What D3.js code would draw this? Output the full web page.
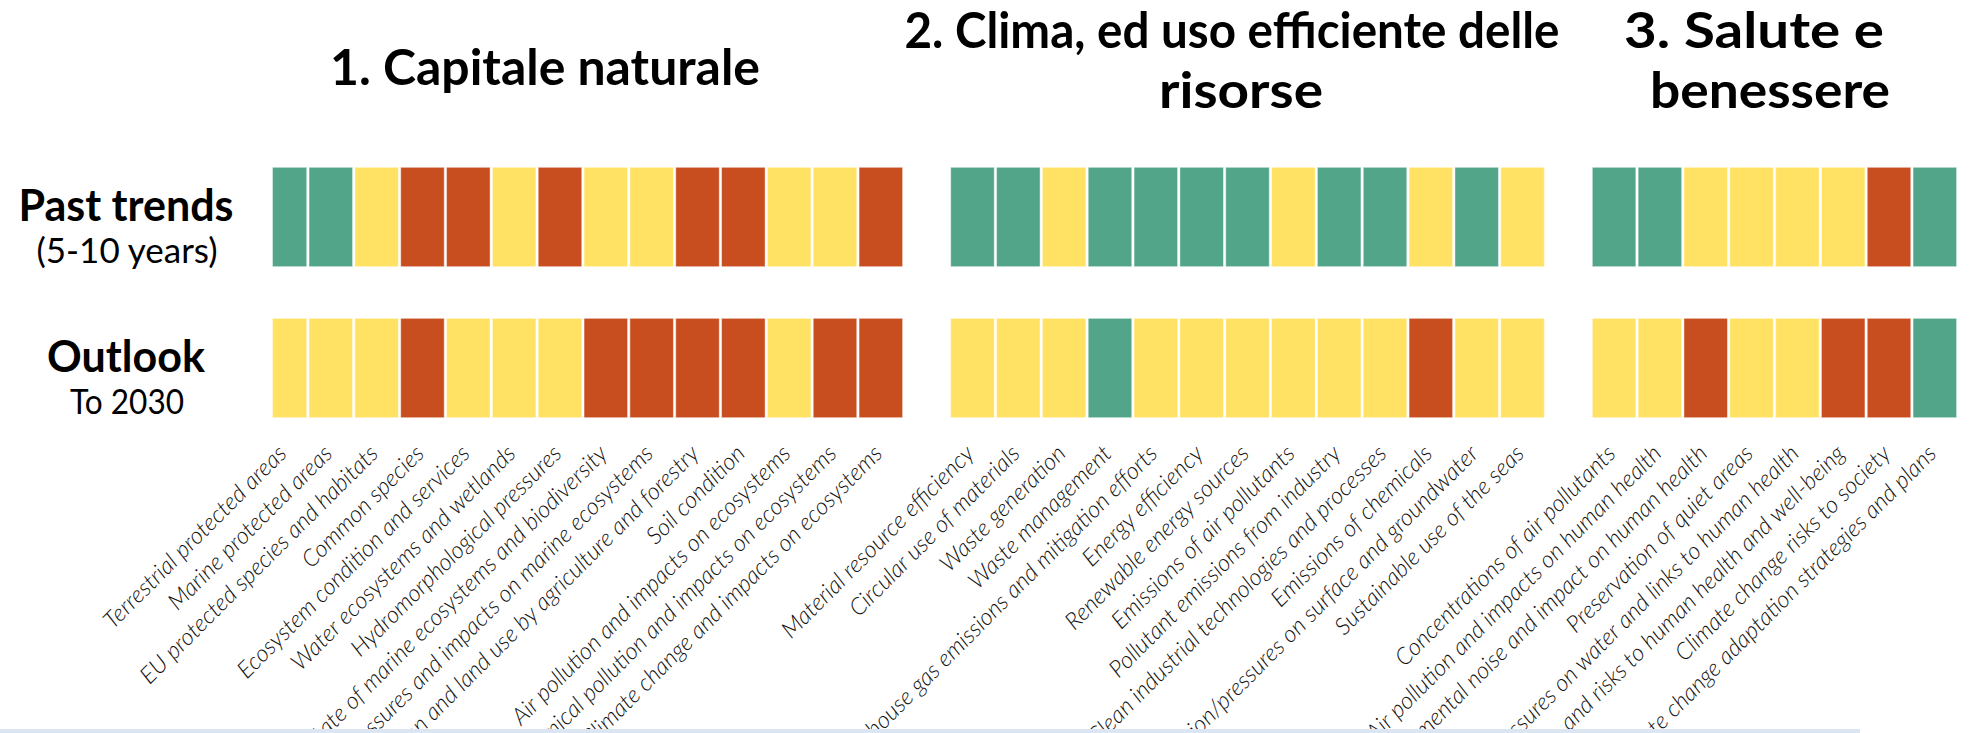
<!DOCTYPE html>
<html>
<head>
<meta charset="utf-8">
<script src="https://cdn.jsdelivr.net/npm/d3@7/dist/d3.min.js"></script>
<style>
  body { margin: 0; background: #fff; }
  svg { display: block; font-family: Lato, "Open Sans", sans-serif; }
</style>
</head>
<body>
<div id="chart"></div>
<script>
// status codes: up = improving (green), mix = mixed (yellow), down = deteriorating (red)
var statusCodes = ["up", "mix", "down"];
var statusColors = ["#52a588", "#ffe264", "#c84e20"];

var rowNames = ["past", "outlook"];
var rowTitles = ["Past trends", "Outlook"];
var rowSubtitles = ["(5-10 years)", "To 2030"];

var titles1 = ["1. Capitale naturale"];
var labels1 = [
  "Terrestrial protected areas",
  "Marine protected areas",
  "EU protected species and habitats",
  "Common species",
  "Ecosystem condition and services",
  "Water ecosystems and wetlands",
  "Hydromorphological pressures",
  "State of marine ecosystems and biodiversity",
  "Pressures and impacts on marine ecosystems",
  "Urbanisation and land use by agriculture and forestry",
  "Soil condition",
  "Air pollution and impacts on ecosystems",
  "Chemical pollution and impacts on ecosystems",
  "Climate change and impacts on ecosystems"
];
var past1    = ["up","up","mix","down","down","mix","down","mix","mix","down","down","mix","mix","down"];
var outlook1 = ["mix","mix","mix","down","mix","mix","mix","down","down","down","down","mix","down","down"];

var titles2 = ["2. Clima, ed uso efficiente delle", "risorse"];
var labels2 = [
  "Material resource efficiency",
  "Circular use of materials",
  "Waste generation",
  "Waste management",
  "Greenhouse gas emissions and mitigation efforts",
  "Energy efficiency",
  "Renewable energy sources",
  "Emissions of air pollutants",
  "Pollutant emissions from industry",
  "Clean industrial technologies and processes",
  "Emissions of chemicals",
  "Water abstraction/pressures on surface and groundwater",
  "Sustainable use of the seas"
];
var past2    = ["up","up","mix","up","up","up","up","mix","up","up","mix","up","mix"];
var outlook2 = ["mix","mix","mix","up","mix","mix","mix","mix","mix","mix","down","mix","mix"];

var titles3 = ["3. Salute e", "benessere"];
var labels3 = [
  "Concentrations of air pollutants",
  "Air pollution and impacts on human health",
  "Environmental noise and impact on human health",
  "Preservation of quiet areas",
  "Pollution pressures on water and links to human health",
  "Chemical pollution and risks to human health and well-being",
  "Climate change risks to society",
  "Climate change adaptation strategies and plans"
];
var past3    = ["up","up","mix","mix","mix","mix","down","up"];
var outlook3 = ["mix","mix","down","mix","mix","down","down","up"];

var width = 1975, height = 733;

// layout of the three panels (x extent of the bars, title anchors and widths)
var groups = [
  { titles: titles1, labels: labels1, past: past1, outlook: outlook1,
    x0: 263.2, x1: 902.6, tx: [545], ty: [85], tw: [430], clip: 272.7 },
  { titles: titles2, labels: labels2, past: past2, outlook: outlook2,
    x0: 950.7, x1: 1544.3, tx: [1232, 1241], ty: [48, 108], tw: [655, 164] },
  { titles: titles3, labels: labels3, past: past3, outlook: outlook3,
    x0: 1592.3, x1: 1956.6, tx: [1754, 1770], ty: [48, 108], tw: [260, 240] }
];

var color = d3.scaleOrdinal().domain(statusCodes).range(statusColors);

var svg = d3.select("#chart").append("svg")
  .attr("width", width)
  .attr("height", height);

var y = d3.scaleBand()
  .domain(rowNames)
  .range([167.3, 417.7])
  .paddingInner(0.342);

// row headings on the left
var subWidths = [181, 114];
var rowHead = svg.append("g").attr("class", "row-heads");
rowNames.forEach(function(r, i){
  var cy = y(r) + y.bandwidth() / 2;
  rowHead.append("text")
    .attr("x", 126)
    .attr("y", cy + 4)
    .attr("text-anchor", "middle")
    .style("font-size", "43px")
    .style("font-weight", 700)
    .attr("fill", "#000")
    .text(rowTitles[i]);
  rowHead.append("text")
    .attr("x", 127)
    .attr("y", cy + 46)
    .attr("text-anchor", "middle")
    .attr("textLength", subWidths[i])
    .attr("lengthAdjust", "spacingAndGlyphs")
    .style("font-size", "35px")
    .attr("fill", "#000")
    .text(rowSubtitles[i]);
});

groups.forEach(function(g, gi){
  var x = d3.scaleBand()
    .domain(g.labels)
    .range([g.x0, g.x1])
    .paddingInner(0.05);

  var cells = [];
  g.labels.forEach(function(lab, i){
    cells.push({ row: "past", label: lab, status: g.past[i] });
    cells.push({ row: "outlook", label: lab, status: g.outlook[i] });
  });

  var layer = svg.append("g").attr("class", "group-" + (gi + 1));

  var bars = layer.append("g");
  if (g.clip) {
    svg.append("clipPath").attr("id", "clip" + gi)
      .append("rect")
      .attr("x", g.clip).attr("y", 0)
      .attr("width", g.x1 - g.clip + 5).attr("height", height);
    bars.attr("clip-path", "url(#clip" + gi + ")");
  }

  bars.selectAll("rect")
    .data(cells)
    .join("rect")
    .attr("x", function(d){ return x(d.label); })
    .attr("y", function(d){ return y(d.row); })
    .attr("width", x.bandwidth())
    .attr("height", y.bandwidth())
    .attr("fill", function(d){ return color(d.status); })
    .attr("stroke", "rgba(255,255,255,0.45)")
    .attr("stroke-width", 1);

  // group title
  layer.selectAll("text.title")
    .data(g.titles)
    .join("text")
    .attr("class", "title")
    .attr("x", function(d, i){ return g.tx[i]; })
    .attr("y", function(d, i){ return g.ty[i]; })
    .attr("text-anchor", "middle")
    .attr("textLength", function(d, i){ return g.tw[i]; })
    .attr("lengthAdjust", "spacingAndGlyphs")
    .style("font-size", "50px")
    .style("font-weight", 700)
    .attr("fill", "#000")
    .text(function(d){ return d; });

  // rotated indicator names
  var axis = layer.append("g")
    .attr("transform", "translate(0,455)")
    .call(d3.axisBottom(x).tickSize(0).tickPadding(0));
  axis.select(".domain").remove();
  axis.selectAll("text")
    .attr("x", 0).attr("y", 0).attr("dy", 0)
    .attr("transform", "translate(3,0) rotate(-45)")
    .attr("text-anchor", "end")
    .attr("fill", "#111")
    .style("font-size", "23.5px")
    .style("font-style", "italic")
    .style("font-weight", 300)
    .style("font-family", "Lato, 'Open Sans', sans-serif");
});

// light strip along the bottom edge of the slide
svg.append("rect")
  .attr("x", 0).attr("y", 729)
  .attr("width", 1860).attr("height", 4)
  .attr("fill", "#dce6f2");
</script>
</body>
</html>
